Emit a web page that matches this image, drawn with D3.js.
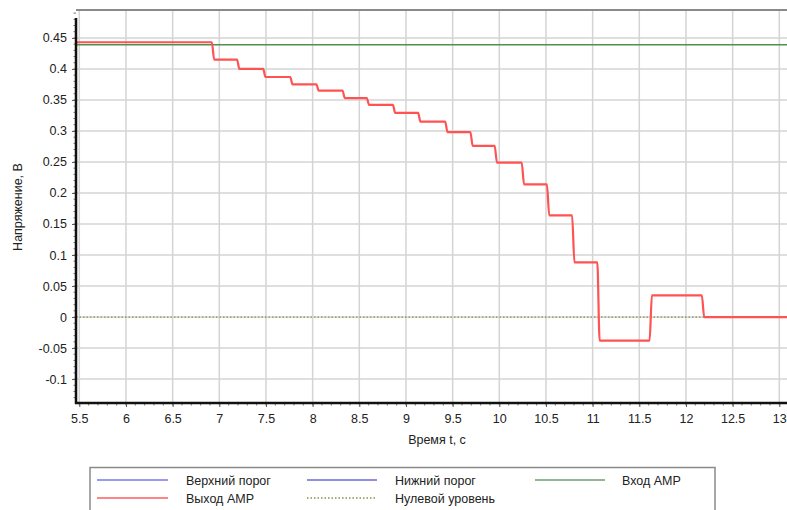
<!DOCTYPE html>
<html><head><meta charset="utf-8">
<script src="https://cdn.jsdelivr.net/npm/d3@7"></script>
<style>
body{margin:0;background:#fff;}
text{font-family:"Liberation Sans",Arial,sans-serif;fill:#222;}
</style></head>
<body><svg id="c" width="787" height="510"></svg>
<script>
// ---- data ----
const xTicks = [5.5,6,6.5,7,7.5,8,8.5,9,9.5,10,10.5,11,11.5,12,12.5,13];
const yTicks = [-0.1,-0.05,0,0.05,0.1,0.15,0.2,0.25,0.3,0.35,0.4,0.45];
const outBreaks = [6.92,7.19,7.47,7.76,8.04,8.32,8.58,8.86,9.13,9.42,9.69,9.95,10.24,10.51,10.78,11.05,11.61,12.17];
const outLevels = [0.443,0.415,0.400,0.387,0.375,0.365,0.353,0.342,0.329,0.315,0.298,0.276,0.249,0.214,0.164,0.088,-0.038,0.035,0];
const inputLevel = 0.439;
const zeroLevel = 0;
const legendItems = [
  {name:"Верхний порог", color:"#7878e8", dash:null},
  {name:"Выход AMP", color:"#ff5c5c", dash:null},
  {name:"Нижний порог", color:"#6a6ad8", dash:null},
  {name:"Нулевой уровень", color:"#8e8e4a", dash:"1.5,2"},
  {name:"Вход AMP", color:"#6f9f6f", dash:null}
];

const svg = d3.select("#c");
const xMin = 5.4646, xMax = 13.3;
const x = d3.scaleLinear().domain([xMin, xMax]).range([76, 76 + (xMax - xMin) * 93.333]);
const y = d3.scaleLinear().domain([-0.1386, 0.495]).range([403, 10]);
const L = 76, R = 800, T = 10, B = 403;

// grid
const g = svg.append("g");
g.selectAll(".vg").data(xTicks).enter().append("line")
  .attr("x1", d=>x(d)).attr("x2", d=>x(d)).attr("y1", T).attr("y2", B)
  .attr("stroke", "#d4d4d4").attr("stroke-width", 1.5);
g.selectAll(".hg").data(yTicks).enter().append("line")
  .attr("x1", L).attr("x2", R).attr("y1", d=>y(d)).attr("y2", d=>y(d))
  .attr("stroke", "#d4d4d4").attr("stroke-width", 1.5);

// top frame
svg.append("line").attr("x1", L).attr("x2", R).attr("y1", T).attr("y2", T)
  .attr("stroke", "#8a8a8a").attr("stroke-width", 2);

// zero level dotted
svg.append("line").attr("x1", L).attr("x2", R).attr("y1", y(zeroLevel)).attr("y2", y(zeroLevel))
  .attr("stroke", "#8e8e4a").attr("stroke-width", 1.3).attr("stroke-dasharray", "1.5,2");

// input line
svg.append("line").attr("x1", L).attr("x2", R).attr("y1", y(inputLevel)).attr("y2", y(inputLevel))
  .attr("stroke", "#4f8f4f").attr("stroke-width", 1.5);

// output steps
const ramp = 0.025;
const pts = [[xMin, outLevels[0]]];
outBreaks.forEach((t, i) => {
  pts.push([t, outLevels[i]]);
  pts.push([t + ramp, outLevels[i + 1]]);
});
pts.push([xMax, outLevels[outLevels.length - 1]]);
svg.append("path").datum(pts)
  .attr("d", d3.line().x(d=>x(d[0])).y(d=>y(d[1])).curve(d3.curveMonotoneX))
  .attr("fill", "none").attr("stroke", "#ff5252").attr("stroke-width", 2.2)
  .attr("stroke-linejoin", "round");

// axes
const fmt = d => String(+d.toFixed(2));
const yAxis = svg.append("g").attr("transform", `translate(${L},0)`)
  .call(d3.axisLeft(y).tickValues(yTicks).tickFormat(fmt).tickSize(4).tickPadding(5));
const xAxis = svg.append("g").attr("transform", `translate(0,${B})`)
  .call(d3.axisBottom(x).tickValues(xTicks).tickFormat(fmt).tickSize(4).tickPadding(7));
[yAxis, xAxis].forEach(a => {
  a.select(".domain").remove();
  a.selectAll("text").style("font-size", "12.5px").attr("fill", "#222");
  a.selectAll(".tick line").attr("stroke", "#555");
});
// minor ticks
const yMinor = d3.range(-13, 50).map(i => i / 100);
svg.append("g").selectAll("line").data(yMinor).enter().append("line")
  .attr("x1", L - 2.5).attr("x2", L).attr("y1", d=>y(d)).attr("y2", d=>y(d))
  .attr("stroke", "#777").attr("stroke-width", 1);
const xMinor = d3.range(55, 133).map(i => i / 10);
svg.append("g").selectAll("line").data(xMinor).enter().append("line")
  .attr("x1", d=>x(d)).attr("x2", d=>x(d)).attr("y1", B).attr("y2", B + 2.5)
  .attr("stroke", "#777").attr("stroke-width", 1);
// axis lines
svg.append("line").attr("x1", L).attr("x2", L).attr("y1", 18).attr("y2", B + 1)
  .attr("stroke", "#111").attr("stroke-width", 2.5);
svg.append("line").attr("x1", L - 1).attr("x2", R).attr("y1", B).attr("y2", B)
  .attr("stroke", "#111").attr("stroke-width", 2.5);

// axis titles
svg.append("text").attr("transform", "translate(22,207) rotate(-90)")
  .attr("text-anchor", "middle").style("font-size", "12.5px").text("Напряжение, В");
svg.append("text").attr("x", 437).attr("y", 444)
  .attr("text-anchor", "middle").style("font-size", "12.5px").text("Время t, с");

// legend
svg.append("rect").attr("x", 90).attr("y", 467.5).attr("width", 625).attr("height", 60)
  .attr("fill", "#fff").attr("stroke", "#8a8a8a").attr("stroke-width", 1.5);
const legPos = [
  {lx1:97, lx2:168, tx:186, y:480},
  {lx1:97, lx2:168, tx:186, y:498},
  {lx1:307, lx2:377, tx:395, y:480},
  {lx1:307, lx2:377, tx:395, y:498},
  {lx1:535, lx2:605, tx:622, y:480}
];
legendItems.forEach((it, i) => {
  const p = legPos[i];
  svg.append("line").attr("x1", p.lx1).attr("x2", p.lx2).attr("y1", p.y).attr("y2", p.y)
    .attr("stroke", it.color).attr("stroke-width", 1.5)
    .attr("stroke-dasharray", it.dash);
  svg.append("text").attr("x", p.tx).attr("y", p.y + 4.5).style("font-size", "12.5px").text(it.name);
});
</script></body></html>
